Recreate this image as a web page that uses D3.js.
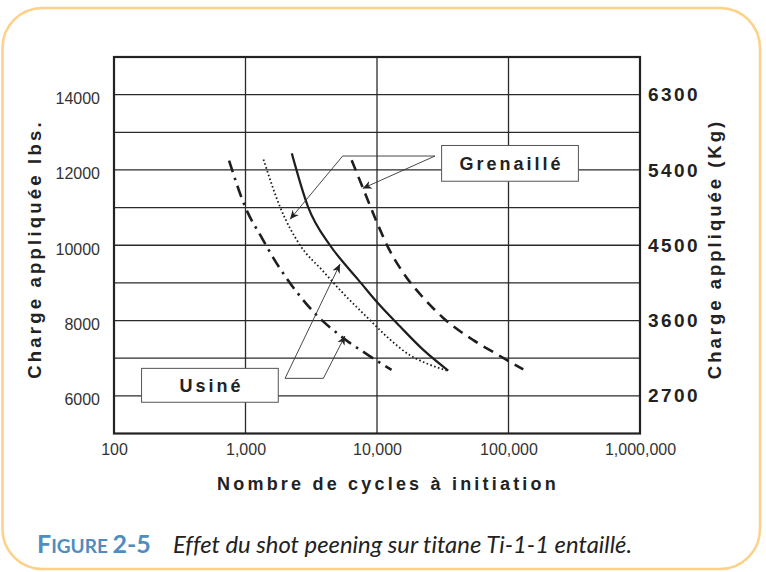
<!DOCTYPE html>
<html>
<head>
<meta charset="utf-8">
<script src="https://cdn.jsdelivr.net/npm/d3@7"></script>
<style>
  body { margin: 0; background: #fff; }
  svg { display: block; }
  text { font-variant-ligatures: none; }
</style>
</head>
<body>
<div id="chart"></div>
<script>
// ---- data (cycles, lbs) ----
const xTicks = [100, 1000, 10000, 100000, 1000000];
const lbsTicks = [6000, 8000, 10000, 12000, 14000];
const kgTicks = [2700, 3600, 4500, 5400, 6300];
const lbsGrid = [6000, 7000, 8000, 9000, 10000, 11000, 12000, 13000, 14000];

// Usiné (machined)
const usineDashDotCycles = [750, 1000, 1330, 1740, 2450, 3440, 5160, 6020, 8350, 10200, 12900];
const usineDashDotLoads  = [12250, 11000, 10200, 9500, 8760, 8160, 7620, 7440, 7110, 6910, 6690];
const usineSolidCycles = [2250, 2990, 4390, 6050, 7210, 9950, 15000, 22500, 34800];
const usineSolidLoads  = [12440, 11020, 10000, 9390, 9080, 8500, 7840, 7220, 6670];

// Grenaillé (shot peened)
const grenDottedCycles = [1370, 1830, 2600, 3820, 5540, 8850, 11900, 17800, 23900, 33900];
const grenDottedLoads  = [12280, 11020, 10000, 9340, 8720, 8010, 7570, 7080, 6860, 6670];
const grenDashedCycles = [6420, 7650, 9950, 12200, 15900, 21900, 31900, 54000, 81300, 129500];
const grenDashedLoads  = [12260, 11600, 10620, 9930, 9260, 8650, 8070, 7480, 7110, 6700];

// callout boxes: [cycles left, cycles right, lbs top, lbs bottom]
const grenBox = [31000, 340000, 12650, 11700];
const usineBox = [162, 1775, 6730, 5830];
// leaders: tipA, elbowA, elbowB, tipB  (cycles, lbs)
const grenLeader = [[2180, 10690], [5480, 12370], [27600, 12370], [7780, 11510]];
const usineLeader = [[5230, 9500], [2000, 6465], [3910, 6465], [5710, 7590]];

const W = 766, H = 572;
const margin = { top: 57, right: 126, bottom: 138.5, left: 114 };

const svg = d3.select("#chart").append("svg")
    .attr("width", W)
    .attr("height", H)
    .attr("viewBox", [0, 0, W, H]);

const font = "'Liberation Sans', Arial, sans-serif";

// rounded orange frame
svg.append("rect")
    .attr("x", 2.5).attr("y", 8)
    .attr("width", 757.5).attr("height", 561)
    .attr("rx", 40).attr("ry", 40)
    .attr("fill", "none")
    .attr("stroke", "#fdd189")
    .attr("stroke-width", 2.5);

const x = d3.scaleLog()
    .domain([100, 1000000])
    .range([margin.left, W - margin.right]);

const y = d3.scaleLinear()
    .domain([5000, 15000])
    .range([H - margin.bottom, margin.top]);

const yKg = d3.scaleLinear()
    .domain([2250, 6750])
    .range([H - margin.bottom, margin.top]);

// grid
svg.append("g")
    .selectAll("line")
    .data(lbsGrid)
    .join("line")
    .attr("x1", x(100)).attr("x2", x(1000000))
    .attr("y1", d => y(d)).attr("y2", d => y(d))
    .attr("stroke", "#2a2a2a")
    .attr("stroke-width", 1.3);

svg.append("g")
    .selectAll("line")
    .data(xTicks.slice(1, -1))
    .join("line")
    .attr("x1", d => x(d)).attr("x2", d => x(d))
    .attr("y1", y(5000)).attr("y2", y(15000))
    .attr("stroke", "#2a2a2a")
    .attr("stroke-width", 1.3);

// frame
svg.append("rect")
    .attr("x", x(100)).attr("y", y(15000))
    .attr("width", x(1000000) - x(100))
    .attr("height", y(5000) - y(15000))
    .attr("fill", "none")
    .attr("stroke", "#222")
    .attr("stroke-width", 2.2);

// axes
const axLeft = svg.append("g")
    .attr("transform", `translate(${margin.left},0)`)
    .call(d3.axisLeft(y).tickValues(lbsTicks).tickSize(0).tickPadding(14).tickFormat(d3.format("d")));
axLeft.select(".domain").remove();
axLeft.selectAll("text")
    .attr("dy", "0.55em")
    .style("font-family", font).style("font-size", "16px").style("fill", "#333");

const axBottom = svg.append("g")
    .attr("transform", `translate(0,${H - margin.bottom})`)
    .call(d3.axisBottom(x).tickValues(xTicks).tickSize(0).tickPadding(10).tickFormat(d3.format(",")));
axBottom.select(".domain").remove();
axBottom.selectAll("text")
    .style("font-family", font).style("font-size", "16px").style("fill", "#333");

const axRight = svg.append("g")
    .attr("transform", `translate(${W - margin.right},0)`)
    .call(d3.axisRight(yKg).tickValues(kgTicks).tickSize(0).tickPadding(8).tickFormat(d3.format("d")));
axRight.select(".domain").remove();
axRight.selectAll("text")
    .style("font-family", font).style("font-size", "19px").style("font-weight", "bold")
    .style("letter-spacing", "2.4px").style("fill", "#222");

// axis titles
svg.append("text")
    .attr("transform", `translate(41,249) rotate(-90)`)
    .attr("text-anchor", "middle")
    .style("font-family", font).style("font-size", "18.5px").style("font-weight", "bold")
    .style("letter-spacing", "3.2px").style("fill", "#222")
    .text("Charge appliquée lbs.");

svg.append("text")
    .attr("transform", `translate(721,249) rotate(-90)`)
    .attr("text-anchor", "middle")
    .style("font-family", font).style("font-size", "18.5px").style("font-weight", "bold")
    .style("letter-spacing", "3px").style("fill", "#222")
    .text("Charge appliquée (Kg)");

svg.append("text")
    .attr("x", 388).attr("y", 490)
    .attr("text-anchor", "middle")
    .style("font-family", font).style("font-size", "18px").style("font-weight", "bold")
    .style("letter-spacing", "3.2px").style("fill", "#222")
    .text("Nombre de cycles à initiation");

// curves
const line = d3.line()
    .x(d => x(d[0]))
    .y(d => y(d[1]))
    .curve(d3.curveMonotoneX);

const series = [
    { c: usineDashDotCycles, l: usineDashDotLoads, dash: "12,6,2.5,6", w: 2.6 },
    { c: grenDottedCycles, l: grenDottedLoads, dash: "1.6,2.4", w: 1.8 },
    { c: usineSolidCycles, l: usineSolidLoads, dash: null, w: 2.2 },
    { c: grenDashedCycles, l: grenDashedLoads, dash: "11,7", w: 2.6 }
];

series.forEach(s => {
    svg.append("path")
        .datum(s.c.map((c, i) => [c, s.l[i]]))
        .attr("fill", "none")
        .attr("stroke", "#1e1e1e")
        .attr("stroke-width", s.w)
        .attr("stroke-dasharray", s.dash)
        .attr("d", line);
});

// arrow marker
svg.append("defs").append("marker")
    .attr("id", "arrow")
    .attr("viewBox", "0 -5 10 10")
    .attr("refX", 10).attr("refY", 0)
    .attr("markerWidth", 9).attr("markerHeight", 9)
    .attr("markerUnits", "userSpaceOnUse")
    .attr("orient", "auto-start-reverse")
    .append("path")
    .attr("d", "M0,-4.5L10,0L0,4.5L3,0Z")
    .attr("fill", "#222");

const leader = d3.line().x(d => x(d[0])).y(d => y(d[1]));

[grenLeader, usineLeader].forEach(pts => {
    svg.append("path")
        .datum(pts)
        .attr("fill", "none")
        .attr("stroke", "#333")
        .attr("stroke-width", 0.9)
        .attr("marker-start", "url(#arrow)")
        .attr("marker-end", "url(#arrow)")
        .attr("d", leader);
});

// callout boxes
[[grenBox, "Grenaillé"], [usineBox, "Usiné"]].forEach(([b, label]) => {
    const x0 = x(b[0]), x1 = x(b[1]), y0 = y(b[2]), y1 = y(b[3]);
    svg.append("rect")
        .attr("x", x0).attr("y", y0)
        .attr("width", x1 - x0).attr("height", y1 - y0)
        .attr("fill", "#fff")
        .attr("stroke", "#555")
        .attr("stroke-width", 1);
    svg.append("text")
        .attr("x", (x0 + x1) / 2 + 1.5).attr("y", (y0 + y1) / 2)
        .attr("dy", "0.36em")
        .attr("text-anchor", "middle")
        .style("font-family", font).style("font-size", "18px").style("font-weight", "bold")
        .style("letter-spacing", "3px").style("fill", "#222")
        .text(label);
});

// caption
const cap = svg.append("text")
    .attr("x", 37).attr("y", 553)
    .style("font-family", "Lato, 'Open Sans', sans-serif");
cap.append("tspan").style("font-size", "25px").style("font-weight", "bold").style("fill", "#4d8dbf").text("F");
cap.append("tspan").style("font-size", "19px").style("font-weight", "bold").style("fill", "#4d8dbf").text("IGURE ");
cap.append("tspan").style("font-size", "25px").style("font-weight", "bold").style("fill", "#4d8dbf").text("2-5");

svg.append("text")
    .attr("x", 173).attr("y", 553)
    .attr("textLength", 459)
    .attr("lengthAdjust", "spacingAndGlyphs")
    .style("font-family", "Lato, 'Open Sans', sans-serif")
    .style("font-style", "italic")
    .style("font-size", "23px")
    .style("fill", "#222")
    .text("Effet du shot peening sur titane Ti-1-1 entaillé.");
</script>
</body>
</html>
